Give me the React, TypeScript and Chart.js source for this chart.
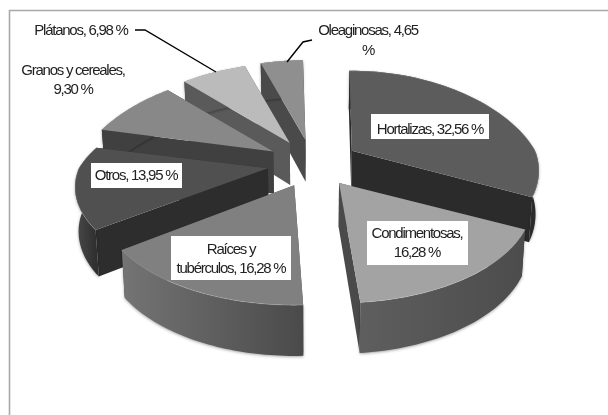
import React, { useEffect, useRef } from "react";
import { Chart, registerables } from "chart.js";

Chart.register(...registerables);

const categories = ["Hortalizas", "Condimentosas", "Raíces y tubérculos", "Otros", "Granos y cereales", "Plátanos", "Oleaginosas"];
const shares = [32.56, 16.28, 16.28, 13.95, 9.3, 6.98, 4.65];

const topColors = ["#5c5c5c", "#a3a3a3", "#808080", "#505050", "#888888", "#bbbbbb", "#8f8f8f"];
const sideColors = ["#2b2b2b", "#4a4a4a", "#555555", "#2d2d2d", "#404040", "#5a5a5a", "#4a4a4a"];
const rimLeft = ["#2b2b2b", "#5e5e5e", "#747474", "#4a4a4a", "#404040", "#5a5a5a", "#4a4a4a"];
const rimRight = ["#2b2b2b", "#4c4c4c", "#4a4a4a", "#2f2f2f", "#404040", "#5a5a5a", "#4a4a4a"];

// drawing tweaks per slice (horizontal scale, vertical scale, start-edge nudge in degrees)
const sliceTweak = [
  [0.97, 1, 0],
  [1, 1, 0],
  [1, 1, 3],
  [1, 0.95, 0],
  [1, 1, 0],
  [1, 1, 0],
  [1, 1, 0],
];

const labelLayout = [
  { cx: 430, ys: [130], box: [371, 114, 489, 139] },
  { cx: 417, ys: [234, 253], box: [367, 221, 468, 265], split: "Condimentosas," },
  { cx: 231, ys: [250, 269], box: [171, 236, 291, 280], split: "Raíces y" },
  { cx: 136, ys: [176], box: [91, 163, 182, 188] },
  { cx: 73, ys: [71, 90], split: "Granos y cereales," },
  { cx: 81, ys: [31] },
  { cx: 368, ys: [31, 51], split: "Oleaginosas, 4,65" },
];

const RX = 189, RY = 96, PERSP = 0.2, PERSP_FAR_X = 0.3, EX = 46, EY = 23.7, DEPTH = 43;

const fmt = (v: number) => v.toFixed(2).replace(".", ",") + " %";

function labelLines(i: number): string[] {
  const full = `${categories[i]}, ${fmt(shares[i])}`;
  const split = labelLayout[i].split;
  if (!split) return [full];
  return [split, full.slice(split.length).trim()];
}

const pie3d = {
  id: "pie3d",
  beforeDraw(chart: any) {
    const { ctx, width, height } = chart;
    ctx.save();
    ctx.fillStyle = "#ffffff";
    ctx.fillRect(0, 0, width, height);
    ctx.strokeStyle = "#a9a9a9";
    ctx.lineWidth = 1.6;
    ctx.beginPath();
    ctx.moveTo(9.5, height + 5);
    ctx.lineTo(9.5, 10.5);
    ctx.lineTo(width + 5, 10.5);
    ctx.stroke();
    ctx.restore();
  },
  beforeDatasetsDraw(chart: any) {
    const { ctx } = chart;
    const arcs = chart.getDatasetMeta(0).data;
    const slices = arcs.map((arc: any, i: number) => {
      const t0 = arc.startAngle + Math.PI / 2 + (sliceTweak[i][2] * Math.PI) / 180;
      const t1 = arc.endAngle + Math.PI / 2;
      return { arc, i, t0, t1, m: (arc.startAngle + arc.endAngle + Math.PI) / 2 };
    });
    slices.sort((a: any, b: any) => Math.cos(b.m) - Math.cos(a.m));

    for (const { arc, i, t0, t1, m } of slices) {
      const k = arc.options.offset / 40;
      const ex = EX * k * Math.sin(m);
      const ey = -EY * k * Math.cos(m);
      const [tx, ty] = sliceTweak[i];
      const top = (t: number, r = 1) => {
        const c = Math.cos(t);
        const s = 1 / (1 + PERSP * r * c);
        const sx = 1 / (1 + (c > 0 ? PERSP_FAR_X : PERSP) * r * c);
        return [ex + tx * RX * r * Math.sin(t) * sx, ey - ty * RY * r * c * s];
      };
      const A = (p: number[]) => [arc.x + p[0], arc.y + p[1]];
      const B = (p: number[]) => [arc.x + p[0] * 0.985, arc.y + p[1] * 1.055 + DEPTH];
      const steps = 48;
      const rim: number[][] = [];
      for (let n = 0; n <= steps; n++) rim.push(top(t0 + ((t1 - t0) * n) / steps));
      const tip = top(0, 0);

      const poly = (pts: number[][], fill: any) => {
        ctx.beginPath();
        pts.forEach((p, idx) => (idx ? ctx.lineTo(p[0], p[1]) : ctx.moveTo(p[0], p[1])));
        ctx.closePath();
        ctx.fillStyle = fill;
        ctx.fill();
      };

      poly([A(tip), A(rim[0]), B(rim[0]), B(tip)], sideColors[i]);
      poly([A(tip), A(rim[steps]), B(rim[steps]), B(tip)], sideColors[i]);

      const xs = rim.map((p) => arc.x + p[0]);
      const g = ctx.createLinearGradient(Math.min(...xs), 0, Math.max(...xs), 0);
      g.addColorStop(0, rimLeft[i]);
      g.addColorStop(1, rimRight[i]);
      ctx.save();
      ctx.shadowColor = "rgba(0,0,0,0.35)";
      ctx.shadowBlur = 3;
      ctx.shadowOffsetY = 1;
      poly([...rim.map(A), ...rim.slice().reverse().map(B)], g);
      ctx.restore();

      poly([A(tip), ...rim.map(A)], topColors[i]);

      ctx.save();
      ctx.strokeStyle = "rgba(255,255,255,0.18)";
      ctx.lineWidth = 1;
      ctx.beginPath();
      rim.map(A).forEach((p, idx) => (idx ? ctx.lineTo(p[0], p[1]) : ctx.moveTo(p[0], p[1])));
      ctx.stroke();
      ctx.restore();
    }

    ctx.save();
    ctx.strokeStyle = "#000000";
    ctx.lineWidth = 1.4;
    ctx.beginPath();
    ctx.moveTo(135, 30);
    ctx.lineTo(145, 30);
    ctx.lineTo(216, 72);
    ctx.moveTo(287, 62);
    ctx.lineTo(303, 42);
    ctx.lineTo(312, 40);
    ctx.stroke();
    ctx.restore();

    ctx.save();
    ctx.font = '15px "Liberation Sans"';
    ctx.textAlign = "center";
    ctx.textBaseline = "middle";
    (ctx as any).letterSpacing = "-1.25px";
    labelLayout.forEach((l, i) => {
      if (l.box) {
        ctx.fillStyle = "#ffffff";
        ctx.fillRect(l.box[0], l.box[1], l.box[2] - l.box[0], l.box[3] - l.box[1]);
      }
      ctx.fillStyle = "#222222";
      labelLines(i).forEach((line, n) => ctx.fillText(line, l.cx, l.ys[n]));
    });
    ctx.restore();
    return false;
  },
};

export default function App() {
  const ref = useRef<HTMLCanvasElement>(null);
  useEffect(() => {
    document.body.style.margin = "0";
    const chart = new Chart(ref.current as HTMLCanvasElement, {
      type: "pie",
      data: {
        labels: categories,
        datasets: [{ data: shares, backgroundColor: topColors, offset: 40, borderWidth: 0 }],
      },
      options: {
        responsive: false,
        animation: false,
        rotation: -1,
        layout: { padding: { left: 18, right: 0, top: 0, bottom: 88 } },
        plugins: { legend: { display: false }, tooltip: { enabled: false }, title: { display: false } },
      },
      plugins: [pie3d],
    } as any);
    return () => chart.destroy();
  }, []);
  return (
    <div style={{ width: 608, height: 415, overflow: "hidden" }}>
      <canvas ref={ref} width={608} height={415} style={{ display: "block", filter: "blur(0.35px)" }} />
    </div>
  );
}
